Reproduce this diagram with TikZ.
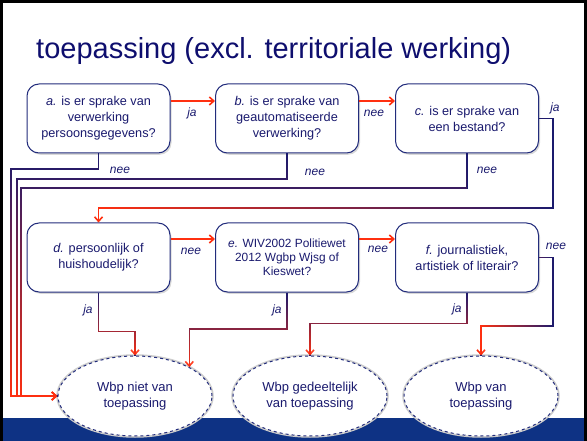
\documentclass[tikz,border=0pt]{standalone}
\usepackage{fontspec}
\setmainfont{Liberation Sans}
\usetikzlibrary{arrows.meta,shapes.geometric,shadows,fadings,calc}
\definecolor{navy}{RGB}{26,26,110}
\definecolor{titlecol}{RGB}{14,14,110}
\definecolor{boxline}{RGB}{34,44,124}
\definecolor{arrred}{RGB}{255,48,16}
\definecolor{bandcol}{RGB}{14,50,132}
\tikzfading[name=fadeS, top color=transparent!100, bottom color=transparent!0]
\tikzfading[name=fadeW, left color=transparent!0, right color=transparent!100]
\newcommand{\gradpath}[2]{%
  \draw[conn, -] #2;
  \draw[conn, draw=arrred, path fading=#1] #2;}
\begin{document}
\begin{tikzpicture}[x=1pt,y=-1pt,
  qbox/.style={draw=boxline, line width=1pt, fill=white, rounded corners=12pt,
    minimum width=143pt, minimum height=69pt, align=center, text=navy,
    font=\fontsize{12.7}{16}\selectfont, inner sep=2pt,
    drop shadow={shadow xshift=1.5pt, shadow yshift=-1.8pt, opacity=0.3}},
  outcome/.style={ellipse, draw=boxline, dashed, line width=1pt, fill=white,
    minimum width=154pt, minimum height=80pt, inner sep=0pt, align=center,
    text=navy, font=\fontsize{13}{16}\selectfont,
    preaction={draw=gray!40, solid, line width=3.5pt}},
  lab/.style={font=\fontsize{12}{14}\selectfont\itshape, text=navy, inner sep=0pt},
  redarr/.style={draw=arrred, line width=1.6pt, -{Straight Barb[length=4.5pt,width=8pt]}},
  conn/.style={draw=navy, line width=1.6pt, -{Straight Barb[length=4.5pt,width=8pt]}}
]
\useasboundingbox (0,0) rectangle (587,441);
\fill[white] (0,0) rectangle (587,441);
\fill[bandcol] (0,418) rectangle (587,441);

\node[anchor=base west, font=\fontsize{29}{34}\selectfont, text=titlecol, inner sep=0pt]
  (title) at (36,59) {toepassing (excl. territoriale werking)};

% question boxes
\node[qbox] (a) at (98.5,118.5) {\textit{a.} is er sprake van\\verwerking\\persoonsgegevens?};
\node[qbox] (b) at (287,118.5) {\textit{b.} is er sprake van\\geautomatiseerde\\verwerking?};
\node[qbox] (c) at (467,118.5) {\textit{c.} is er sprake van\\een bestand?};
\node[qbox] (d) at (98.5,257.5) {\textit{d.} persoonlijk of\\huishoudelijk?};
\node[qbox, font=\fontsize{11.9}{14}\selectfont] (e) at (287,257.5) {\textit{e.} WIV2002 Politiewet\\2012 Wgbp Wjsg of\\Kieswet?};
\node[qbox] (f) at (467,257.5) {\textit{f.} journalistiek,\\artistiek of literair?};

% outcomes
\node[outcome] (n1) at (135,396) {Wbp niet van\\toepassing};
\node[outcome] (n2) at (310,396) {Wbp gedeeltelijk\\van toepassing};
\node[outcome] (n3) at (481,396) {Wbp van\\toepassing};

% horizontal red arrows
\coordinate (r1) at (0,101);
\coordinate (r2) at (0,239);
\draw[redarr] (a.east |- r1) -- (b.west |- r1);
\draw[redarr] (b.east |- r1) -- (c.west |- r1);
\draw[redarr] (d.east |- r2) -- (e.west |- r2);
\draw[redarr] (e.east |- r2) -- (f.west |- r2);

% gradient connectors
\gradpath{fadeS}{(a.south) |- (11,169) |- (n1.west)}
\gradpath{fadeS}{(b.south) |- (17,179) |- (n1.west)}
\gradpath{fadeS}{(c.south) |- (21,188) |- (n1.west)}
\gradpath{fadeW}{(c.east) -| (553,208) -| (d.north)}
\gradpath{fadeS}{(d.south) |- ($(n1.north)+(0,-24)$) -- (n1.north)}
\gradpath{fadeS}{(e.south) |- ($(n1.28)+(0,-38)$) -- (n1.28)}
\gradpath{fadeS}{(f.south) |- ($(n2.north)+(0,-32)$) -- (n2.north)}
\gradpath{fadeW}{(f.east) -| (553,326) -| (n3.north)}

% labels
\node[lab] (l1) at (192,113) {ja};
\node[lab] (l2) at (374,113) {nee};
\node[lab] (l3) at (555,108) {ja};
\node[lab] (l4) at (120,170) {nee};
\node[lab] (l5) at (315,172) {nee};
\node[lab] (l6) at (487,170) {nee};
\node[lab] (l7) at (191,251) {nee};
\node[lab] (l8) at (378,249) {nee};
\node[lab] (l9) at (88,310) {ja};
\node[lab] (l10) at (277,310) {ja};
\node[lab] (l11) at (457,309) {ja};
\node[lab] (l12) at (556,246) {nee};

% slide frame
\draw[black, line width=3pt] (1.5,441) -- (1.5,1.5) -- (585.5,1.5) -- (585.5,441);
\end{tikzpicture}
\end{document}
